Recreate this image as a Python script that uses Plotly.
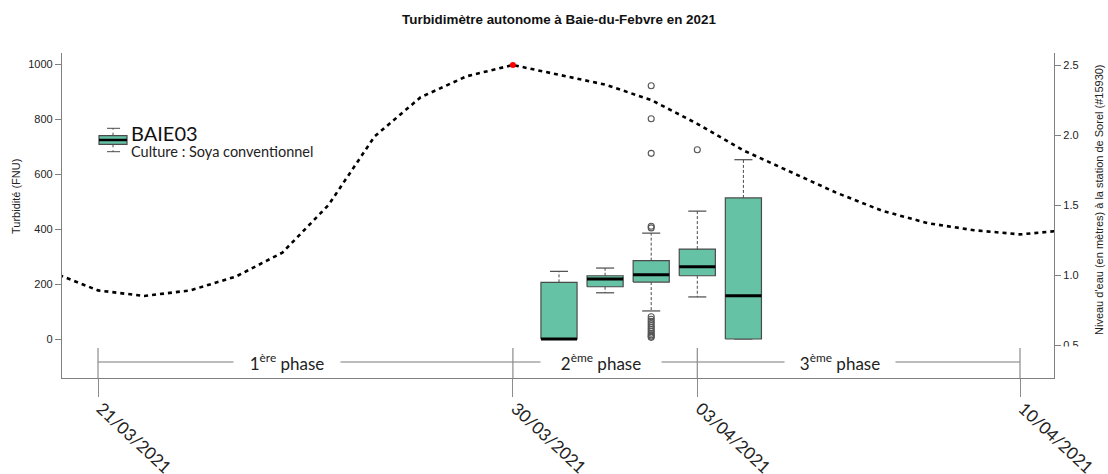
import plotly.graph_objects as go
import pandas as pd
import numpy as np

# ---------------- data ----------------
level_dates = pd.date_range("2021-03-20", "2021-04-11", freq="D")
level_values = [1.02, 0.89, 0.85, 0.89, 0.99, 1.16, 1.50, 1.99, 2.27, 2.42, 2.50,
                2.43, 2.36, 2.25, 2.08, 1.89, 1.74, 1.59, 1.46, 1.37, 1.32, 1.29, 1.32]

box_dates = ["2021-03-31", "2021-04-01", "2021-04-02", "2021-04-03", "2021-04-04"]
box_lower = [0, 168, 102, 153, 0]
box_q1 = [0, 190, 207, 230, 0]
box_median = [0, 218, 234, 263, 157]
box_q3 = [206, 230, 285, 327, 513]
box_upper = [246, 258, 385, 465, 652]

outlier_dates = ["2021-04-02"] * 17 + ["2021-04-03"]
outlier_values = [921, 801, 675, 410, 404,
                  81, 72, 64, 56, 49, 42, 35, 28, 21, 15, 10, 6,
                  688]

tick_dates = ["2021-03-21", "2021-03-30", "2021-04-03", "2021-04-10"]
tick_labels = ["21/03/2021", "30/03/2021", "03/04/2021", "10/04/2021"]
phase_labels = ["1<sup>ère</sup> phase", "2<sup>ème</sup> phase", "3<sup>ème</sup> phase"]

title_text = "Turbidimètre autonome à Baie-du-Febvre en 2021"
y_title = "Turbidité (FNU)"
y2_title = "Niveau d'eau (en mètres) à la station de Sorel (#15930)"
legend_name = "BAIE03"
legend_sub = "Culture : Soya conventionnel"

# ---------------- layout constants ----------------
W, H = 1108, 474
L, R, T, B = 62, 1054, 53, 378   # plot area in page pixels


def px(x):
    return (x - L) / (R - L)


def py(y):
    return (B - y) / (B - T)


BOX_FILL = "#66c2a5"
BOX_LINE = "#4a4a4a"
AX = "#808080"
half = pd.Timedelta(hours=9.4)
cap = pd.Timedelta(hours=4.7)

fig = go.Figure()

for d, lo, q1, me, q3, up in zip(box_dates, box_lower, box_q1, box_median, box_q3, box_upper):
    c = pd.Timestamp(d)
    fig.add_trace(go.Scatter(x=[c, c, None, c, c], y=[q3, up, None, q1, lo], mode="lines",
                             line=dict(color=BOX_LINE, width=1, dash="3px,2px"),
                             showlegend=False, hoverinfo="skip"))
    fig.add_trace(go.Scatter(x=[c - cap, c + cap, None, c - cap, c + cap], y=[up, up, None, lo, lo],
                             mode="lines", line=dict(color=BOX_LINE, width=1.2),
                             showlegend=False, hoverinfo="skip"))
    fig.add_trace(go.Scatter(x=[c - half, c + half, c + half, c - half, c - half],
                             y=[q1, q1, q3, q3, q1], mode="lines", fill="toself",
                             fillcolor=BOX_FILL, line=dict(color=BOX_LINE, width=1.2),
                             showlegend=False, hoverinfo="skip"))
    fig.add_trace(go.Scatter(x=[c - half, c + half], y=[me, me], mode="lines",
                             line=dict(color="black", width=3),
                             showlegend=False, hoverinfo="skip"))

fig.add_trace(go.Scatter(x=pd.to_datetime(outlier_dates), y=outlier_values, mode="markers",
                         marker=dict(symbol="circle-open", size=6, color="#555555",
                                     line=dict(width=1.1)),
                         showlegend=False, hoverinfo="skip"))

fig.add_trace(go.Scatter(x=level_dates, y=level_values, mode="lines", yaxis="y2",
                         line=dict(color="black", width=2.6, dash="4px,4px"),
                         showlegend=False, hoverinfo="skip"))
imax = int(np.argmax(level_values))
fig.add_trace(go.Scatter(x=[level_dates[imax]], y=[level_values[imax]], mode="markers", yaxis="y2",
                         marker=dict(color="red", size=6), showlegend=False, hoverinfo="skip"))

x_start = pd.Timestamp(tick_dates[0]) - pd.Timedelta(days=(98 - L) / 46.1)
x_end = pd.Timestamp(tick_dates[-1]) + pd.Timedelta(days=(R - 1020) / 46.1)

shapes = []
shapes.append(dict(type="line", xref="x", yref="paper", x0=tick_dates[0], x1=tick_dates[-1],
                   y0=py(362), y1=py(362), line=dict(color="#a6a6a6", width=1.5)))
for d in tick_dates:
    shapes.append(dict(type="line", xref="x", yref="paper", x0=d, x1=d,
                       y0=0, y1=py(348), line=dict(color="#8c8c8c", width=1.2)))
shapes.append(dict(type="rect", xref="paper", yref="paper", x0=px(1057), x1=px(1095),
                   y0=py(382), y1=py(346.5), fillcolor="white", line=dict(width=0), layer="above"))

lx0, lx1, lxc = px(99), px(127), px(113)
shapes += [
    dict(type="line", xref="paper", yref="paper", x0=lxc, x1=lxc, y0=py(135.7), y1=py(128.3),
         line=dict(color=BOX_LINE, width=1, dash="dot")),
    dict(type="line", xref="paper", yref="paper", x0=lxc, x1=lxc, y0=py(144.3), y1=py(151.7),
         line=dict(color=BOX_LINE, width=1, dash="dot")),
    dict(type="line", xref="paper", yref="paper", x0=px(107), x1=px(120), y0=py(128.3), y1=py(128.3),
         line=dict(color=BOX_LINE, width=1)),
    dict(type="line", xref="paper", yref="paper", x0=px(107), x1=px(120), y0=py(151.7), y1=py(151.7),
         line=dict(color=BOX_LINE, width=1)),
    dict(type="rect", xref="paper", yref="paper", x0=lx0, x1=lx1, y0=py(144.3), y1=py(135.7),
         fillcolor=BOX_FILL, line=dict(color=BOX_LINE, width=1.2)),
    dict(type="line", xref="paper", yref="paper", x0=lx0, x1=lx1, y0=py(140), y1=py(140),
         line=dict(color="black", width=2.5)),
]

annotations = [
    dict(text=y_title, xref="paper", yref="paper", x=px(16), y=py(197), textangle=-90,
         showarrow=False, font=dict(family="Liberation Sans", size=11, color="#222"),
         xanchor="center", yanchor="middle"),
    dict(text=y2_title, xref="paper", yref="paper", x=px(1099), y=py(200), textangle=-90,
         showarrow=False, font=dict(family="Liberation Sans", size=11, color="#222"),
         xanchor="center", yanchor="middle"),
    dict(text=legend_name, xref="paper", yref="paper", x=px(129), y=py(133), showarrow=False,
         font=dict(family="Lato", size=20, color="#111"), xanchor="left", yanchor="middle"),
    dict(text=legend_sub, xref="paper", yref="paper", x=px(129), y=py(151.5), showarrow=False,
         font=dict(family="Lato", size=14.5, color="#222"), xanchor="left", yanchor="middle"),
]
phase_pos = [(287, 106), (601, 120), (840, 110)]
for lab, (cx, w) in zip(phase_labels, phase_pos):
    annotations.append(dict(text=lab, xref="paper", yref="paper", x=px(cx), y=py(362),
                            showarrow=False, bgcolor="white", borderpad=0, width=w, height=22,
                            font=dict(family="Lato", size=17, color="#222"),
                            xanchor="center", yanchor="middle"))

fig.update_layout(
    width=W, height=H, autosize=False,
    margin=dict(l=L, r=W - R, t=T, b=H - B, autoexpand=False),
    paper_bgcolor="white", plot_bgcolor="white",
    title=dict(text="<b>" + title_text + "</b>", x=px(559), xref="paper", xanchor="center",
               y=1 - 19 / H, yref="container", yanchor="middle",
               font=dict(family="Liberation Sans", size=13.4, color="#111")),
    xaxis=dict(type="date", range=[x_start, x_end], tickvals=tick_dates, ticktext=tick_labels,
               tickangle=43, ticks="outside", ticklen=18, tickcolor="#8c8c8c", tickwidth=1.2,
               ticklabelshift=3, ticklabelstandoff=-5,
               showline=True, linecolor=AX, linewidth=1.2, showgrid=False, zeroline=False,
               automargin=False,
               tickfont=dict(family="Lato", size=17, color="#222")),
    yaxis=dict(range=[(339 - B) / 0.275, (339 - T) / 0.275], tickvals=[0, 200, 400, 600, 800, 1000],
               ticks="outside", ticklen=6, tickcolor=AX, showline=True, linecolor=AX, linewidth=1.2,
               showgrid=False, zeroline=False, automargin=False,
               tickfont=dict(family="Liberation Sans", size=11, color="#222")),
    yaxis2=dict(overlaying="y", side="right",
                range=[2.5 - (B - 65) / 140, 2.5 + (65 - T) / 140],
                tickvals=[0.5, 1.0, 1.5, 2.0, 2.5], ticktext=["0.5", "1.0", "1.5", "2.0", "2.5"],
                ticks="outside", ticklen=6, tickcolor=AX, showline=True, linecolor=AX, linewidth=1.2,
                showgrid=False, zeroline=False, automargin=False,
                tickfont=dict(family="Liberation Sans", size=11, color="#222")),
    shapes=shapes, annotations=annotations,
)

fig.write_html("out.html", config={"displayModeBar": False},
               post_script="document.body.style.margin='0px';document.body.style.overflow='hidden';")
